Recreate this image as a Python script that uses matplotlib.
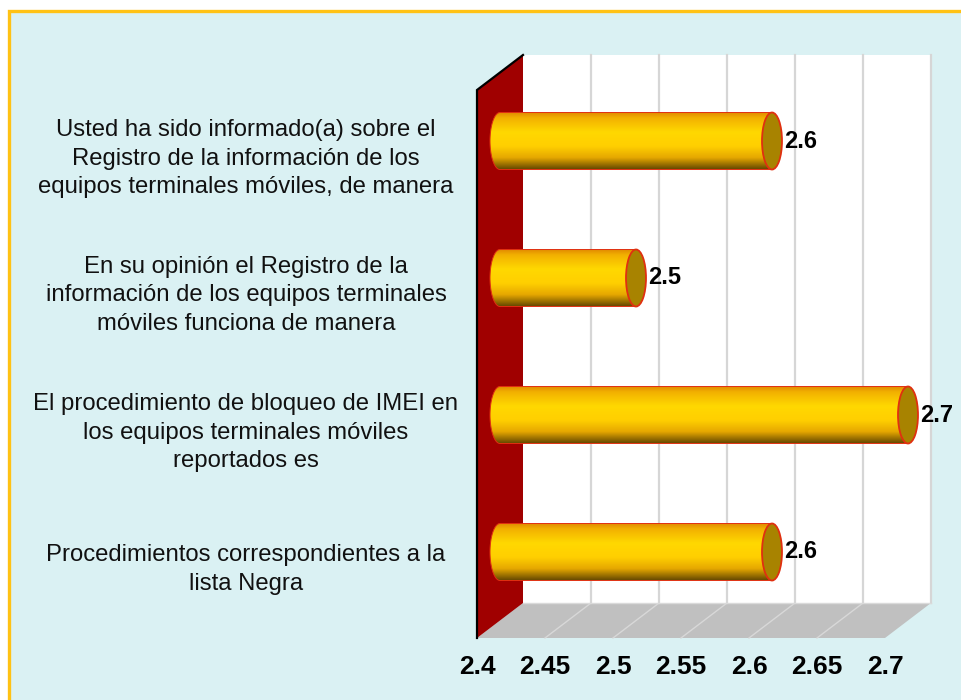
import numpy as np
import matplotlib

matplotlib.use("Agg")
import matplotlib.pyplot as plt
from matplotlib.colors import LinearSegmentedColormap
from matplotlib.patches import Ellipse, PathPatch, Polygon, Rectangle
from matplotlib.path import Path
from matplotlib.transforms import blended_transform_factory

# --------------------------------------------------------------------------- #
# Data
# --------------------------------------------------------------------------- #
categories = [
    "Usted ha sido informado(a) sobre el\nRegistro de la información de los\nequipos terminales móviles, de manera",
    "En su opinión el Registro de la\ninformación de los equipos terminales\nmóviles funciona de manera",
    "El procedimiento de bloqueo de IMEI en\nlos equipos terminales móviles\nreportados es",
    "Procedimientos correspondientes a la\nlista Negra",
]
values = [2.6, 2.5, 2.7, 2.6]
value_labels = ["2.6", "2.5", "2.7", "2.6"]
ticks = [2.4, 2.45, 2.5, 2.55, 2.6, 2.65, 2.7]
tick_labels = ["2.4", "2.45", "2.5", "2.55", "2.6", "2.65", "2.7"]
x_min, x_max = 2.4, 2.7

# --------------------------------------------------------------------------- #
# Layout (pixels) of the mid-depth plane the cylinders sit in
# --------------------------------------------------------------------------- #
W, H = 962, 700
MID_LEFT, MID_RIGHT = 500, 908
MID_TOP, MID_BOTTOM = 72.5, 620.5
DEPTH_X, DEPTH_Y = 46, 35

BG = "#DAF1F3"
BORDER = "#FFC214"
WALL = "#A00000"
FLOOR = "#C0C0C0"
GRID = "#D6D6D6"
CAP = "#A88300"
EDGE = "#E03010"

n = len(categories)
px_x = (MID_RIGHT - MID_LEFT) / (x_max - x_min)
px_y = (MID_BOTTOM - MID_TOP) / n
DX = DEPTH_X / px_x
DY = DEPTH_Y / px_y
y_top, y_bot = -0.5, n - 0.5

fig = plt.figure(figsize=(W / 100, H / 100), dpi=100)
fig.patch.set_facecolor("white")
ax = fig.add_axes([0, 0, 1, 1])
ax.set_xlim(x_min - MID_LEFT / px_x, x_min + (W - MID_LEFT) / px_x)
ax.set_ylim(y_top + (H - MID_TOP) / px_y, y_top - MID_TOP / px_y)
ax.axis("off")

# background + border
ax.add_patch(Rectangle((9 / W, -0.05), 1.1, 1.05 - 11 / H, transform=ax.transAxes,
                       facecolor=BG, edgecolor=BORDER, lw=2.4, zorder=0))

# back wall with gridlines
bx0, bx1 = x_min + DX / 2, x_max + DX / 2
by0, by1 = y_top - DY / 2, y_bot - DY / 2
ax.add_patch(Polygon([(bx0, by0), (bx1, by0), (bx1, by1), (bx0, by1)],
                     closed=True, facecolor="white", edgecolor="none", zorder=1))
for t in ticks[1:]:
    ax.plot([t + DX / 2] * 2, [by0, by1], color=GRID, lw=1.6, zorder=2)

# floor with diagonal gridlines
fy0, fy1 = y_bot - DY / 2, y_bot + DY / 2
ax.add_patch(Polygon([(x_min + DX / 2, fy0), (x_max + DX / 2, fy0),
                      (x_max - DX / 2, fy1), (x_min - DX / 2, fy1)],
                     closed=True, facecolor=FLOOR, edgecolor="none", zorder=1))
for t in ticks[1:-1]:
    ax.plot([t + DX / 2, t - DX / 2], [fy0, fy1], color="#D8D8D8", lw=1.0, zorder=2)
ax.plot([x_min + DX / 2, x_max + DX / 2], [fy0, fy0], color="#DADADA", lw=1.0, zorder=2)

# left wall
lx0, lx1 = x_min - DX / 2, x_min + DX / 2
ax.add_patch(Polygon([(lx0, y_top + DY / 2), (lx1, y_top - DY / 2),
                      (lx1, y_bot - DY / 2), (lx0, y_bot + DY / 2)],
                     closed=True, facecolor=WALL, edgecolor="none", zorder=3))
ax.plot([lx0, lx0, lx1], [y_bot + DY / 2, y_top + DY / 2, y_top - DY / 2],
        color="black", lw=1.6, zorder=3, solid_joinstyle="miter")

# cylinders
bar_cmap = LinearSegmentedColormap.from_list("gold", [
    (0.00, "#E08800"), (0.10, "#F2B000"), (0.35, "#FFD800"), (0.60, "#FFCF00"),
    (0.80, "#E6A800"), (1.00, "#684A00")])
grad = np.linspace(0, 1, 256).reshape(-1, 1)
hh = 28.5 / px_y
a = 10 / px_x
theta = np.linspace(np.pi / 2, 3 * np.pi / 2, 60)

for i, (v, lab) in enumerate(zip(values, value_labels)):
    arc = np.column_stack([x_min + a * np.cos(theta), i - hh * np.sin(theta)])
    verts = np.vstack([arc, [[v, i + hh], [v, i - hh]], arc[:1]])
    outline = PathPatch(Path(verts, closed=True), facecolor="none",
                        edgecolor=EDGE, lw=0.7, zorder=5)
    ax.add_patch(outline)
    im = ax.imshow(grad, cmap=bar_cmap, extent=[x_min - a, v, i + hh, i - hh],
                   aspect="auto", origin="upper", interpolation="bilinear", zorder=4)
    im.set_clip_path(outline)
    ax.add_patch(Ellipse((v, i), 2 * a, 2 * hh, facecolor=CAP, edgecolor=EDGE,
                         lw=1.3, zorder=6))
    ax.text(v + a + 2 / px_x, i, lab, ha="left", va="center", fontsize=17,
            fontweight="bold", family="Liberation Sans", color="black", zorder=7)

# restore limits after imshow
ax.set_xlim(x_min - MID_LEFT / px_x, x_min + (W - MID_LEFT) / px_x)
ax.set_ylim(y_top + (H - MID_TOP) / px_y, y_top - MID_TOP / px_y)

# x tick labels (front plane)
for t, lab in zip(ticks, tick_labels):
    ax.text(t - DX / 2, y_bot + DY / 2 + 29 / px_y, lab, ha="center", va="center",
            fontsize=19, fontweight="bold", family="Liberation Sans", color="black")

# category labels (front plane)
trans = blended_transform_factory(fig.transFigure, ax.transData)
for i, cat in enumerate(categories):
    ax.text(246 / W, i + DY / 2, cat, transform=trans, ha="center", va="center",
            multialignment="center", fontsize=17.2, linespacing=1.38,
            family="Liberation Sans", color="#111111")

fig.savefig("out.png", dpi=100, facecolor=fig.get_facecolor())
